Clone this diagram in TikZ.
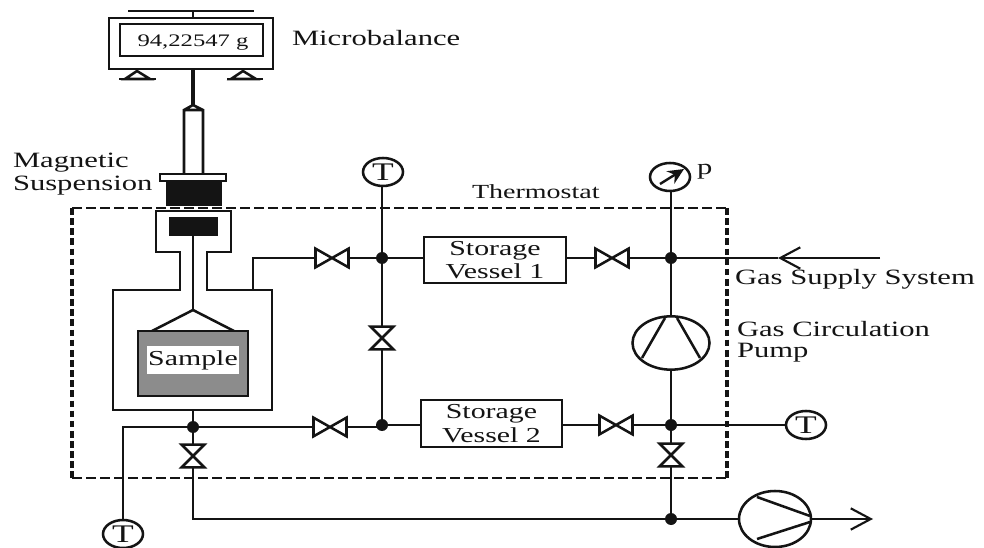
\documentclass[tikz,border=0pt]{standalone}
\usepackage{fontspec}
\setmainfont[FakeStretch=1.4]{Liberation Serif}
\usetikzlibrary{shapes.geometric,arrows.meta}
\colorlet{ink}{black!92}
\tikzset{
  ln/.style={draw=ink,line width=1.9pt},
  lbl/.style={text=ink,font=\fontsize{16.4}{18}\selectfont,inner sep=0pt,outer sep=0pt,align=left},
  valvehbox/.style={minimum width=24.75pt,minimum height=14pt,inner sep=0pt,outer sep=0pt},
  valvevbox/.style={minimum width=17pt,minimum height=17pt,inner sep=0pt,outer sep=0pt},
  dot/.style={circle,fill=ink,minimum size=9pt,inner sep=0pt,outer sep=0pt},
  gauge/.style={ellipse,draw=ink,line width=1.9pt,fill=white,minimum width=30pt,minimum height=21pt,inner sep=0pt,outer sep=0pt,text=ink,font=\fontsize{19}{19}\selectfont},
  pumpbody/.style={ellipse,draw=ink,line width=1.9pt,fill=white,inner sep=0pt,outer sep=0pt},
  vessel/.style={rectangle,draw=ink,line width=1.9pt,fill=white,inner sep=0pt,outer sep=0pt,align=center,text=ink,font=\fontsize{16}{17.5}\selectfont},
  openarrow/.style={-{Straight Barb[length=15pt,width=16pt,line width=1.6pt]}},
}
\newcommand{\valveh}[3]{\node[valvehbox] (#1) at (#2,#3) {};
  \draw[ln,fill=white,line join=miter] (#1.north west) -- (#1.south east) -- (#1.north east) -- (#1.south west) -- cycle;}
\newcommand{\valvev}[3]{\node[valvevbox] (#1) at (#2,#3) {};
  \draw[ln,fill=white,line join=miter] (#1.north west) -- (#1.north east) -- (#1.south west) -- (#1.south east) -- cycle;}
\begin{document}
\begin{tikzpicture}[x=0.75pt,y=-0.75pt]
\useasboundingbox (0,0) rectangle (984,548);
\fill[white] (0,0) rectangle (984,548);

% thermostat
\draw[draw=ink,line width=2.1pt,dash pattern=on 7.5pt off 3pt] (72,208) -- (727,208) (72,478) -- (727,478);
\draw[draw=ink,line width=2.4pt,dash pattern=on 5pt off 2.6pt] (72,208) -- (72,478) (727,208) -- (727,478);

% junctions and free ends
\node[dot] (j1) at (382,258) {};
\node[dot] (j2) at (382,425) {};
\node[dot] (j3) at (671,258) {};
\node[dot] (j4) at (671,425) {};
\node[dot] (j5) at (193,427) {};
\node[dot] (j6) at (671,519) {};
\coordinate (port) at (253,290);
\coordinate (portc) at (253,258);
\coordinate (lowc) at (123,427);
\coordinate (corner) at (193,519);
\coordinate (vbot) at (193,410);
\coordinate (supply) at (880,258);
\coordinate (tip) at (778,258);
\coordinate (out) at (873,519);

% instruments
\node[gauge] (t1) at (383,172) {T};
\node[gauge] (t2) at (806,425) {T};
\node[gauge] (t3) at (123,534) {T};
\node[gauge] (pg) at (670,177) {};
\node[pumpbody,minimum width=57.75pt,minimum height=40pt] (cp) at (671,343) {};
\node[pumpbody,minimum width=54pt,minimum height=42pt] (ep) at (775,519) {};

% storage vessels
\node[vessel,minimum width=106.5pt,minimum height=34.5pt] (sv1) at (495,260) {Storage\\Vessel 1};
\node[vessel,minimum width=105.75pt,minimum height=35.25pt] (sv2) at (491.5,423.5) {Storage\\Vessel 2};

% valves
\valveh{v1}{332}{258}
\valveh{v2}{612}{258}
\valveh{v3}{330}{427}
\valveh{v4}{616}{425}
\valvev{v5}{382}{338}
\valvev{v6}{193}{456}
\valvev{v7}{671}{455}

% connectors
\draw[ln] (port) -- (portc) -- (v1.west);
\draw[ln] (v1.east) -- (j1) -- (sv1.west |- j1);
\draw[ln] (sv1.east |- v2) -- (v2.west);
\draw[ln] (v2.east) -- (j3);
\draw[ln,openarrow] (supply) -- (tip);
\draw[ln] (tip) -- (j3);
\draw[ln] (t1.south -| j1) -- (j1);
\draw[ln] (j1) -- (v5.north);
\draw[ln] (v5.south) -- (j2);
\draw[ln] (v3.east) -| (j2);
\draw[ln] (j2) -- (sv2.west |- j2);
\draw[ln] (sv2.east |- v4) -- (v4.west);
\draw[ln] (v4.east) -- (j4);
\draw[ln] (j4) -- (t2.west);
\draw[ln] (pg.south -| j3) -- (j3);
\draw[ln] (j3) -- (cp.north);
\draw[ln] (cp.south) -- (j4);
\draw[ln] (j4) -- (v7.north);
\draw[ln] (v7.south) -- (j6);
\draw[ln] (vbot) -- (j5);
\draw[ln] (j5) -- (v3.west);
\draw[ln] (j5) -- (lowc) -- (t3.north);
\draw[ln] (j5) -- (v6.north);
\draw[ln] (v6.south) -- (corner) -- (j6);
\draw[ln] (j6) -- (ep.west);
\draw[ln,openarrow] (ep.east) -- (out);

% pump and gauge details
\draw[ln] (642,358) -- (665,318) (677,318) -- (700,358);
\draw[ln] (757,497) -- (810,516) (757,539) -- (810,522);
\draw[draw=ink,line width=1.8pt,-{Stealth[length=12pt,width=11pt]}] (660,184) -- (684,169);

% microbalance
\draw[ln] (128,11) -- (254,11) (193,11) -- (193,18);
\draw[ln] (109,18) rectangle (273,69);
\draw[ln] (120,24) rectangle (263,56);
\node[text=ink,font=\fontsize{13.2}{16}\selectfont,inner sep=0pt] (disp) at (193,43) {94,22547 g};
\draw[ln,fill=white] (137,71) -- (125,79) -- (150,79) -- cycle;
\draw[ln,fill=white] (243,71) -- (231,79) -- (256,79) -- cycle;
\draw[ln] (119,79) -- (156,79) (227,79) -- (263,79);

% suspension
\draw[line width=2.6pt,draw=ink] (193,69) -- (193,106);
\draw[ln] (184,173) -- (184,110) -- (193,105) -- (203,110) -- (203,173) (184,110) -- (203,110);
\draw[ln,fill=white] (160,174) rectangle (226,181);
\fill[ink] (166,181) rectangle (222,206);

% vessel
\draw[ln] (180,290) -- (180,252) -- (156,252) -- (156,211) -- (231,211) -- (231,252) -- (207,252) -- (207,290) -- (272,290) -- (272,410) -- (113,410) -- (113,290) -- cycle;
\fill[ink] (169,217) rectangle (218,236);
\draw[ln] (193,236) -- (193,310);
\draw[ln] (152,331) -- (193,310) -- (234,331);
\draw[ln,fill=black!45] (138,331) rectangle (248,396);
\node[draw=black!45,line width=0.8pt,fill=white,minimum width=70.5pt,minimum height=22.5pt,inner sep=0pt,text=ink,font=\fontsize{16}{18}\selectfont] (sample) at (193,360) {Sample};

% labels
\node[lbl,anchor=west] (lmb) at (292,38) {Microbalance};
\node[lbl,anchor=west] (lms1) at (13,163) {Magnetic};
\node[lbl,anchor=west] (lms2) at (13,186) {Suspension};
\node[lbl,anchor=west,font=\fontsize{15}{18}\selectfont] (lth) at (472,192) {Thermostat};
\node[lbl,anchor=west] (lp) at (697,172) {p};
\node[lbl,anchor=west] (lgs) at (735,279) {Gas Supply System};
\node[lbl,anchor=west] (lgc1) at (737,329) {Gas Circulation};
\node[lbl,anchor=west] (lgc2) at (737,353) {Pump};
\end{tikzpicture}
\end{document}
